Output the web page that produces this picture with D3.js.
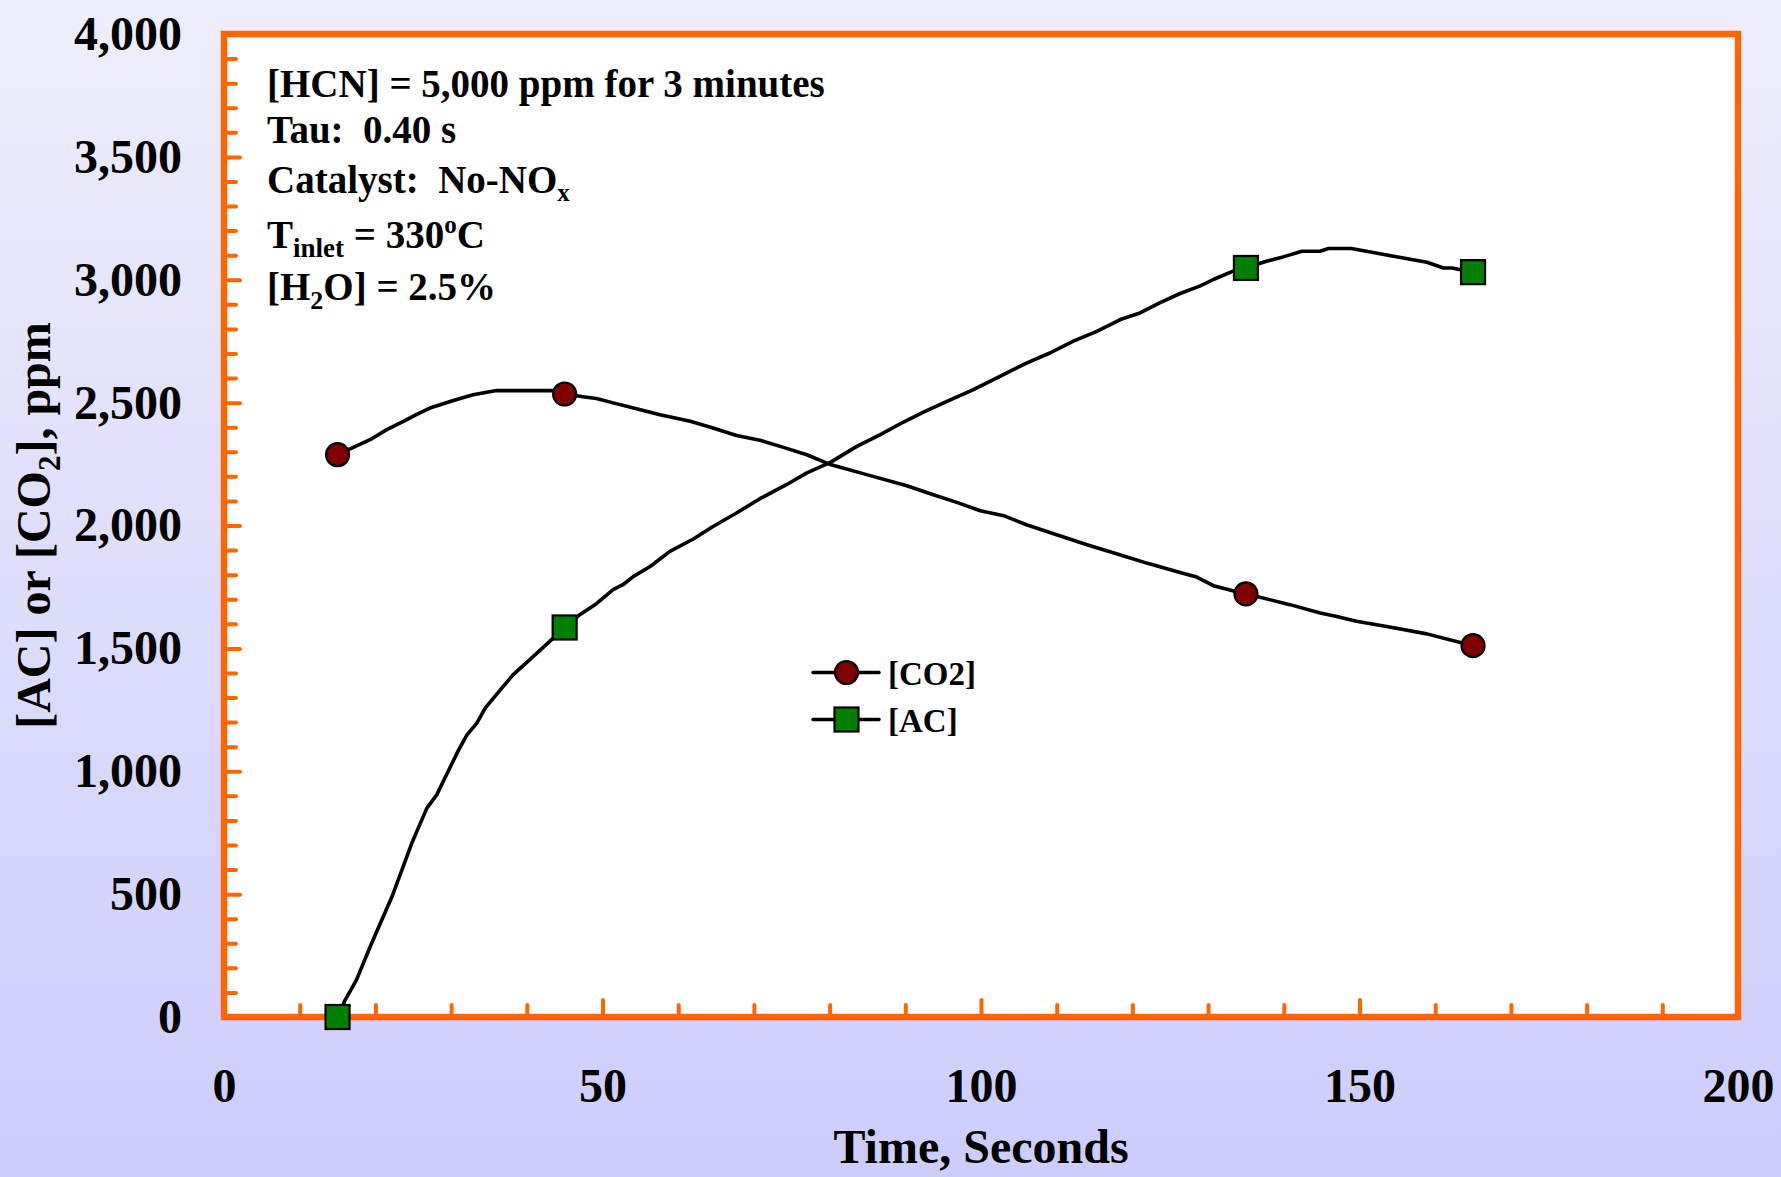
<!DOCTYPE html>
<html>
<head>
<meta charset="utf-8">
<script src="https://cdn.jsdelivr.net/npm/d3@7"></script>
<style>
  html, body { margin: 0; padding: 0; background: #fff; }
  svg { display: block; }
  text { font-family: "Liberation Serif", "Times New Roman", serif; font-weight: bold; fill: #000; white-space: pre; }
</style>
</head>
<body>
<svg id="chart" width="1781" height="1177"></svg>
<script>
// Time (s) and concentrations (ppm) along each trace
const co2Time = [15, 19.3, 21.5, 23.7, 25.4, 27.2, 30.3, 32.9, 36, 43.5, 45, 47.9, 49.2, 51.4, 54.1, 57.6, 61.6, 64.6, 67.7, 70.8, 73.9, 77, 80.1, 84.9, 90.2, 93.7, 96.8, 99.9, 103, 106, 110.4, 114, 118, 122, 126.3, 128.5, 130.7, 133.5, 135, 140.8, 144.8, 147, 149.6, 153.6, 158.9, 163.7, 165];
const co2Value = [2288, 2349, 2390, 2424, 2451, 2478, 2509, 2532, 2549, 2549, 2535, 2522, 2517, 2499, 2478, 2451, 2424, 2397, 2366, 2347, 2318, 2288, 2248, 2207, 2162, 2125, 2094, 2060, 2040, 2003, 1958, 1922, 1884, 1846, 1809, 1790, 1755, 1732, 1722, 1678, 1644, 1630, 1610, 1589, 1559, 1521, 1511];

const acTime = [15, 16, 17.5, 19.5, 22.2, 24.8, 26.8, 28.1, 29.6, 31, 32.1, 33.4, 34.5, 36.5, 38.2, 40.4, 43.5, 45, 47, 49.2, 51.4, 52.7, 54.1, 56.3, 58.9, 62, 64.6, 67.7, 70.8, 74.3, 77, 80.1, 83.6, 86.7, 89.7, 92.4, 95.5, 99, 102.5, 106, 109.1, 112.2, 115.3, 118.4, 121, 123.6, 126.3, 128.9, 130.7, 133.3, 135, 137.7, 139.9, 142.4, 144.8, 145.9, 148.9, 150.9, 154.5, 158.9, 161.1, 162.2, 165];
const acValue = [0, 69, 151, 300, 490, 707, 850, 904, 999, 1087, 1148, 1196, 1257, 1331, 1393, 1454, 1542, 1585, 1637, 1682, 1739, 1759, 1793, 1833, 1895, 1945, 1996, 2051, 2109, 2166, 2214, 2257, 2322, 2370, 2420, 2461, 2505, 2553, 2607, 2661, 2702, 2750, 2790, 2838, 2865, 2906, 2944, 2974, 3001, 3035, 3048, 3075, 3093, 3116, 3116, 3127, 3127, 3116, 3096, 3071, 3048, 3048, 3031];

// Marked sampling points
const markerTime = [15, 45, 135, 165];
const co2Marker = [2288, 2535, 1722, 1511];
const acMarker = [0, 1585, 3048, 3031];

// Axis ticks
const xLabelTicks = [0, 50, 100, 150, 200];
const yLabelTicks = [0, 500, 1000, 1500, 2000, 2500, 3000, 3500, 4000];

const seriesNames = ["[CO2]", "[AC]"];

const svg = d3.select("#chart");
const W = 1781, H = 1177;
const orange = "#FF6600";

// Background wash
const defs = svg.append("defs");
const grad = defs.append("linearGradient").attr("id", "bg").attr("x1", 0).attr("y1", 0).attr("x2", 0).attr("y2", 1);
grad.append("stop").attr("offset", "0%").attr("stop-color", "#EEEEFC");
grad.append("stop").attr("offset", "100%").attr("stop-color", "#CDCDFC");
svg.append("rect").attr("width", W).attr("height", H).attr("fill", "url(#bg)");

const x = d3.scaleLinear().domain([0, 200]).range([224, 1738]);
const y = d3.scaleLinear().domain([0, 4000]).range([1017, 34]);

// Plot area
svg.append("rect")
  .attr("x", x(0)).attr("y", y(4000))
  .attr("width", x(200) - x(0)).attr("height", y(0) - y(4000))
  .attr("fill", "#fff");

// Tick marks (inside the frame)
function styleTicks(g) {
  g.select(".domain").remove();
  g.selectAll(".tick line").attr("stroke", orange).attr("stroke-width", 4).attr("stroke-linecap", "round");
  g.selectAll(".tick text").remove();
}
const yMinor = d3.range(100, 4000, 100).filter(v => v % 500 !== 0);
const yMajor = d3.range(500, 4000, 500);
const xMinor = d3.range(10, 200, 10).filter(v => v % 50 !== 0);
const xMajor = d3.range(50, 200, 50);

svg.append("g").attr("transform", `translate(${x(0)},0)`)
  .call(d3.axisRight(y).tickValues(yMinor).tickSize(12)).call(styleTicks);
svg.append("g").attr("transform", `translate(${x(0)},0)`)
  .call(d3.axisRight(y).tickValues(yMajor).tickSize(16)).call(styleTicks);
svg.append("g").attr("transform", `translate(0,${y(0)})`)
  .call(d3.axisTop(x).tickValues(xMinor).tickSize(12)).call(styleTicks);
svg.append("g").attr("transform", `translate(0,${y(0)})`)
  .call(d3.axisTop(x).tickValues(xMajor).tickSize(17)).call(styleTicks);

// Frame
svg.append("rect")
  .attr("x", x(0)).attr("y", y(4000))
  .attr("width", x(200) - x(0)).attr("height", y(0) - y(4000))
  .attr("fill", "none").attr("stroke", orange).attr("stroke-width", 6.5);

// Tick labels
const yAxisLabels = svg.append("g").attr("transform", `translate(${x(0)},0)`)
  .call(d3.axisLeft(y).tickValues(yLabelTicks).tickFormat(d3.format(",")).tickSize(0).tickPadding(42));
yAxisLabels.select(".domain").remove();
yAxisLabels.selectAll("text").attr("font-size", 48).attr("font-family", null).attr("fill", "#000");

const xAxisLabels = svg.append("g").attr("transform", `translate(0,${y(0)})`)
  .call(d3.axisBottom(x).tickValues(xLabelTicks).tickFormat(d3.format("d")).tickSize(0).tickPadding(51));
xAxisLabels.select(".domain").remove();
xAxisLabels.selectAll("text").attr("font-size", 48).attr("font-family", null).attr("fill", "#000");

// Axis titles
svg.append("text").attr("x", (x(0) + x(200)) / 2).attr("y", 1163)
  .attr("text-anchor", "middle").attr("font-size", 48).text("Time, Seconds");

const yTitle = svg.append("text")
  .attr("transform", `translate(50,${(y(0) + y(4000)) / 2}) rotate(-90)`)
  .attr("text-anchor", "middle").attr("font-size", 48);
yTitle.append("tspan").text("[AC] or [CO");
yTitle.append("tspan").attr("font-size", 31).attr("dy", 10).text("2");
yTitle.append("tspan").attr("dy", -10).text("], ppm");

// Traces
const line = d3.line().x(d => x(d[0])).y(d => y(d[1]));
const co2Pts = co2Time.map((t, i) => [t, co2Value[i]]);
const acPts = acTime.map((t, i) => [t, acValue[i]]);

svg.append("path").datum(co2Pts).attr("d", line)
  .attr("fill", "none").attr("stroke", "#000").attr("stroke-width", 3.6).attr("stroke-linejoin", "round");
svg.append("path").datum(acPts).attr("d", line)
  .attr("fill", "none").attr("stroke", "#000").attr("stroke-width", 3.6).attr("stroke-linejoin", "round");

const sq = 24;
svg.append("g").selectAll("rect").data(markerTime.map((t, i) => [t, acMarker[i]])).join("rect")
  .attr("x", d => x(d[0]) - sq / 2).attr("y", d => y(d[1]) - sq / 2)
  .attr("width", sq).attr("height", sq)
  .attr("fill", "#008000").attr("stroke", "#000").attr("stroke-width", 2.2);
svg.append("g").selectAll("circle").data(markerTime.map((t, i) => [t, co2Marker[i]])).join("circle")
  .attr("cx", d => x(d[0])).attr("cy", d => y(d[1])).attr("r", 11.5)
  .attr("fill", "#800000").attr("stroke", "#000").attr("stroke-width", 2.2);

// Run conditions
const notes = svg.append("g").attr("font-size", 39);
notes.append("text").attr("x", 267).attr("y", 97).text("[HCN] = 5,000 ppm for 3 minutes");
notes.append("text").attr("x", 267).attr("y", 143).text("Tau:  0.40 s");
const cat = notes.append("text").attr("x", 267).attr("y", 193);
cat.append("tspan").text("Catalyst:  No-NO");
cat.append("tspan").attr("font-size", 25).attr("dy", 8).text("x");
const tin = notes.append("text").attr("x", 267).attr("y", 248);
tin.append("tspan").text("T");
tin.append("tspan").attr("font-size", 27).attr("dy", 9).text("inlet");
tin.append("tspan").attr("dy", -9).text(" = 330");
tin.append("tspan").attr("font-size", 25).attr("dy", -15).text("o");
tin.append("tspan").attr("dy", 15).text("C");
const h2o = notes.append("text").attr("x", 267).attr("y", 300);
h2o.append("tspan").text("[H");
h2o.append("tspan").attr("font-size", 26).attr("dy", 9).text("2");
h2o.append("tspan").attr("dy", -9).text("O] = 2.5%");

// Legend
const legend = svg.append("g");
const rows = [{ y: 672.5, shape: "circle" }, { y: 719.5, shape: "square" }];
rows.forEach((r, i) => {
  legend.append("line").attr("x1", 813).attr("x2", 879).attr("y1", r.y).attr("y2", r.y)
    .attr("stroke", "#000").attr("stroke-width", 3.5).attr("stroke-linecap", "round");
  if (r.shape === "circle") {
    legend.append("circle").attr("cx", 846.5).attr("cy", r.y).attr("r", 11.5)
      .attr("fill", "#800000").attr("stroke", "#000").attr("stroke-width", 2.2);
  } else {
    legend.append("rect").attr("x", 846.5 - sq / 2).attr("y", r.y - sq / 2).attr("width", sq).attr("height", sq)
      .attr("fill", "#008000").attr("stroke", "#000").attr("stroke-width", 2.2);
  }
  legend.append("text").attr("x", 888).attr("y", r.y + 12).attr("font-size", 33).text(seriesNames[i]);
});
</script>
</body>
</html>
